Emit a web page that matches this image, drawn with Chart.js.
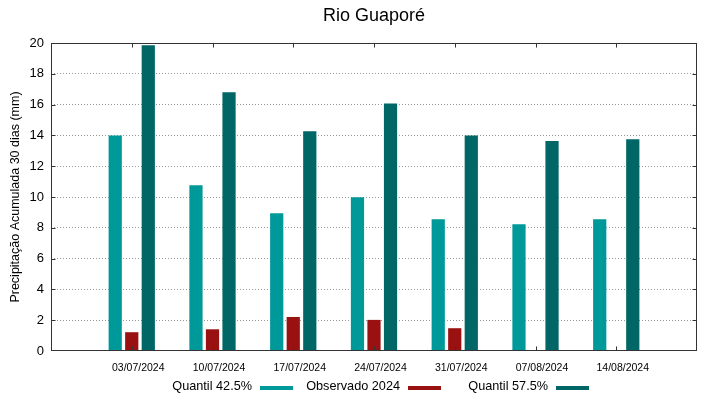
<!DOCTYPE html>
<html>
<head>
<meta charset="utf-8">
<style>
  html, body { margin: 0; padding: 0; background: #fff; }
  #wrap { width: 719px; height: 399px; }
</style>
<script src="https://cdn.jsdelivr.net/npm/chart.js@4/dist/chart.umd.min.js"></script>
</head>
<body>
<div id="wrap"><canvas id="chart" width="719" height="399"></canvas></div>
<script>
const dates = ["03/07/2024", "10/07/2024", "17/07/2024", "24/07/2024", "31/07/2024", "07/08/2024", "14/08/2024"];
const quantil425 = [14.0, 10.77, 8.95, 9.98, 8.56, 8.23, 8.56];
const observado = [1.22, 1.41, 2.21, 2.02, 1.48, null, null];
const quantil575 = [19.85, 16.8, 14.27, 16.07, 14.0, 13.64, 13.75];

const FONT = "'Liberation Sans', Arial, sans-serif";

// gnuplot-like frame, inward tick marks and key (text first, sample after)
const frame = {
  id: "frame",
  afterDraw(chart) {
    const { ctx, chartArea: a } = chart;
    const xs = chart.scales.x, ys = chart.scales.y;
    const l = Math.round(a.left) + 0.5, r = Math.round(a.right) - 0.5;
    const t = Math.round(a.top) + 0.5, b = Math.round(a.bottom) - 0.5;
    ctx.save();
    ctx.strokeStyle = "#333";
    ctx.lineWidth = 1;
    ctx.strokeRect(l, t, r - l, b - t);
    ctx.beginPath();
    for (const tk of xs.ticks) {
      if (tk.value <= xs.min || tk.value >= xs.max) continue;
      const px = Math.round(xs.getPixelForValue(tk.value)) + 0.5;
      ctx.moveTo(px, t); ctx.lineTo(px, t + 4);
      ctx.moveTo(px, b); ctx.lineTo(px, b - 4);
    }
    for (const tk of ys.ticks) {
      if (tk.value <= ys.min || tk.value >= ys.max) continue;
      const py = Math.round(ys.getPixelForValue(tk.value)) + 0.5;
      ctx.moveTo(l, py); ctx.lineTo(l + 4, py);
      ctx.moveTo(r, py); ctx.lineTo(r - 4, py);
    }
    ctx.stroke();

    const cx = (a.left + a.right) / 2;
    const ly = chart.height - 12.5;
    ctx.font = "12.7px " + FONT;
    ctx.textAlign = "right";
    ctx.textBaseline = "middle";
    chart.data.datasets.forEach((ds, i) => {
      const sx = cx - 114 + i * 148;
      ctx.fillStyle = "#000";
      ctx.fillText(ds.label, sx - 8, ly);
      ctx.fillStyle = ds.backgroundColor;
      ctx.fillRect(sx, ly - 0.5, 33, 4);
    });
    ctx.restore();
  }
};

const toPoints = arr => arr.map((v, i) => ({ x: i + 1, y: v }));

new Chart(document.getElementById("chart"), {
  type: "bar",
  data: {
    datasets: [
      { label: "Quantil 42.5%", data: toPoints(quantil425), backgroundColor: "#009999" },
      { label: "Observado 2024", data: toPoints(observado), backgroundColor: "#991111" },
      { label: "Quantil 57.5%", data: toPoints(quantil575), backgroundColor: "#006666" }
    ]
  },
  options: {
    responsive: false,
    animation: false,
    devicePixelRatio: 1,
    events: [],
    layout: { padding: { left: 4, right: 22, top: 0, bottom: 14.6 } },
    datasets: { bar: { categoryPercentage: 0.614, barPercentage: 0.8, borderWidth: 0 } },
    plugins: {
      legend: { display: false },
      tooltip: { enabled: false },
      title: {
        display: true,
        text: "Rio Guaporé",
        fullSize: false,
        color: "#000",
        font: { family: FONT, size: 18, weight: "normal" },
        padding: { top: 5, bottom: 16.4 }
      }
    },
    scales: {
      x: {
        type: "linear",
        min: 0,
        max: dates.length + 1,
        offset: false,
        grid: { display: false, drawTicks: false },
        border: { display: false },
        ticks: {
          stepSize: 1,
          autoSkip: false,
          maxRotation: 0,
          padding: 10.4,
          labelOffset: 6.5,
          color: "#000",
          font: { family: FONT, size: 10.5 },
          callback: v => dates[v - 1] || ""
        }
      },
      y: {
        min: 0,
        max: 20,
        grid: {
          color: c => (c.tick && (c.tick.value === 0 || c.tick.value === 20)) ? "rgba(0,0,0,0)" : "#999",
          drawTicks: false
        },
        border: { display: false, dash: [1, 2] },
        ticks: { stepSize: 2, padding: 7, color: "#000", font: { family: FONT, size: 13 } },
        title: {
          display: true,
          text: "Precipitação Acumulada 30 dias (mm)",
          color: "#000",
          font: { family: FONT, size: 12.5 },
          padding: { top: 4, bottom: 0 }
        },
        afterFit(s) { s.width = 47; }
      }
    }
  },
  plugins: [frame]
});
</script>
</body>
</html>
